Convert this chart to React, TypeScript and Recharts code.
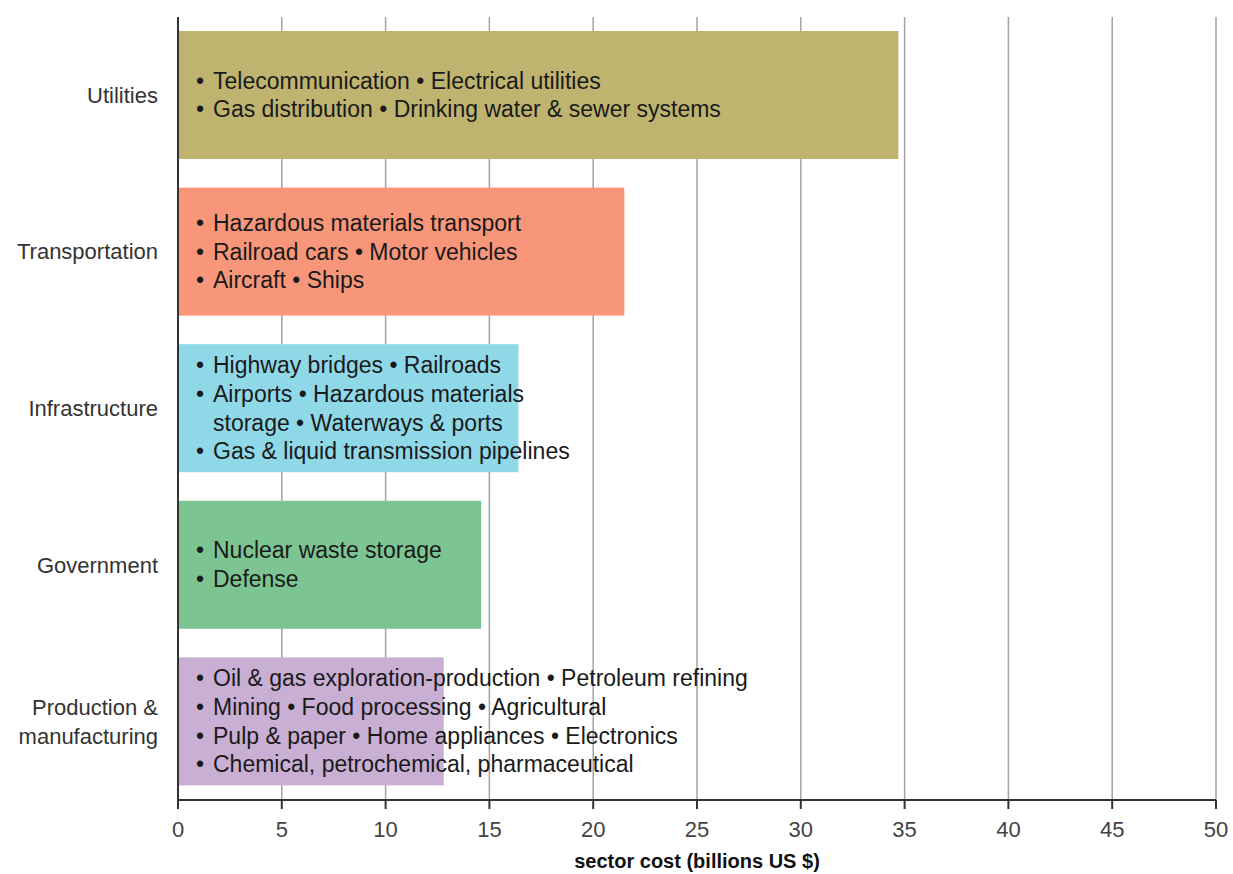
import { BarChart, Bar, XAxis, YAxis, CartesianGrid, Cell } from "recharts";

const categories = ["Utilities", "Transportation", "Infrastructure", "Government", "Production & manufacturing"];
const categoryLines = [["Utilities"], ["Transportation"], ["Infrastructure"], ["Government"], ["Production &", "manufacturing"]];
const costs = [34.7, 21.5, 16.4, 14.6, 12.8];
const xTicks = [0, 5, 10, 15, 20, 25, 30, 35, 40, 45, 50];

const COLORS = ["#bfb46f", "#f8967a", "#8fd8e8", "#7dc493", "#c9afd3"];

const sectorItems = [
  ["• Telecommunication • Electrical utilities", "• Gas distribution • Drinking water & sewer systems"],
  ["• Hazardous materials transport", "• Railroad cars • Motor vehicles", "• Aircraft • Ships"],
  [
    "• Highway bridges • Railroads",
    "• Airports • Hazardous materials",
    "storage • Waterways & ports",
    "• Gas & liquid transmission pipelines",
  ],
  ["• Nuclear waste storage", "• Defense"],
  [
    "• Oil & gas exploration-production • Petroleum refining",
    "• Mining • Food processing • Agricultural",
    "• Pulp & paper • Home appliances • Electronics",
    "• Chemical, petrochemical, pharmaceutical",
  ],
];

const FONT = "'Liberation Sans', Arial, sans-serif";

const data = categories.map((name, i) => ({ name, cost: costs[i] }));

function SectorTick({ x, y, payload, index }: any) {
  const lines = categoryLines[index ?? categories.indexOf(payload.value)] || [payload.value];
  const lh = 29;
  return (
    <g>
      {lines.map((l, i) => (
        <text
          key={i}
          x={x}
          y={y + (i - (lines.length - 1) / 2) * lh}
          textAnchor="end"
          dominantBaseline="central"
          fontSize={22}
          fill="#333"
          fontFamily={FONT}
        >
          {l}
        </text>
      ))}
    </g>
  );
}

function SectorBar(props: any) {
  const { x, y, width, height, index } = props;
  const lines = sectorItems[index] || [];
  const cy = y + height / 2;
  const lh = 28.7;
  return (
    <g>
      <rect x={x} y={y} width={width} height={height} fill={COLORS[index % COLORS.length]} />
      {lines.map((l, i) => {
        const ly = cy + (i - (lines.length - 1) / 2) * lh;
        const bullet = l.startsWith("• ");
        return (
          <g key={i}>
            {bullet && (
              <text x={x + 18} y={ly} dominantBaseline="central" fontSize={23} fill="#1a1a1a" fontFamily={FONT}>
                •
              </text>
            )}
            <text x={x + 35} y={ly} dominantBaseline="central" fontSize={23} fill="#1a1a1a" fontFamily={FONT}>
              {bullet ? l.slice(2) : l}
            </text>
          </g>
        );
      })}
    </g>
  );
}

export default function App() {
  return (
    <div style={{ width: 1233, height: 874, fontFamily: FONT }}>
      <style>{"body{margin:0;overflow:hidden}.recharts-surface{overflow:visible}"}</style>
      <BarChart
        width={1233}
        height={874}
        data={data}
        layout="vertical"
        margin={{ top: 17, right: 17, bottom: 0, left: 0 }}
        barSize={128}
      >
        <CartesianGrid horizontal={false} stroke="#a3a3a3" strokeWidth={1.5} />
        <XAxis
          type="number"
          domain={[0, 50]}
          ticks={xTicks}
          height={74}
          tickSize={9}
          tickMargin={12}
          axisLine={{ stroke: "#333", strokeWidth: 2 }}
          tickLine={{ stroke: "#333", strokeWidth: 2 }}
          tick={{ fontSize: 22, fill: "#444", fontFamily: FONT }}
          label={{
            value: "sector cost (billions US $)",
            position: "insideBottom",
            offset: 6,
            fontSize: 20,
            fontWeight: 700,
            fill: "#111",
            fontFamily: FONT,
          }}
        />
        <YAxis
          type="category"
          dataKey="name"
          width={178}
          tickLine={false}
          tickMargin={14}
          axisLine={{ stroke: "#333", strokeWidth: 2 }}
          tick={<SectorTick />}
        />
        <Bar dataKey="cost" isAnimationActive={false} shape={<SectorBar />}>
          {data.map((_, i) => (
            <Cell key={i} fill={COLORS[i % COLORS.length]} />
          ))}
        </Bar>
      </BarChart>
    </div>
  );
}
